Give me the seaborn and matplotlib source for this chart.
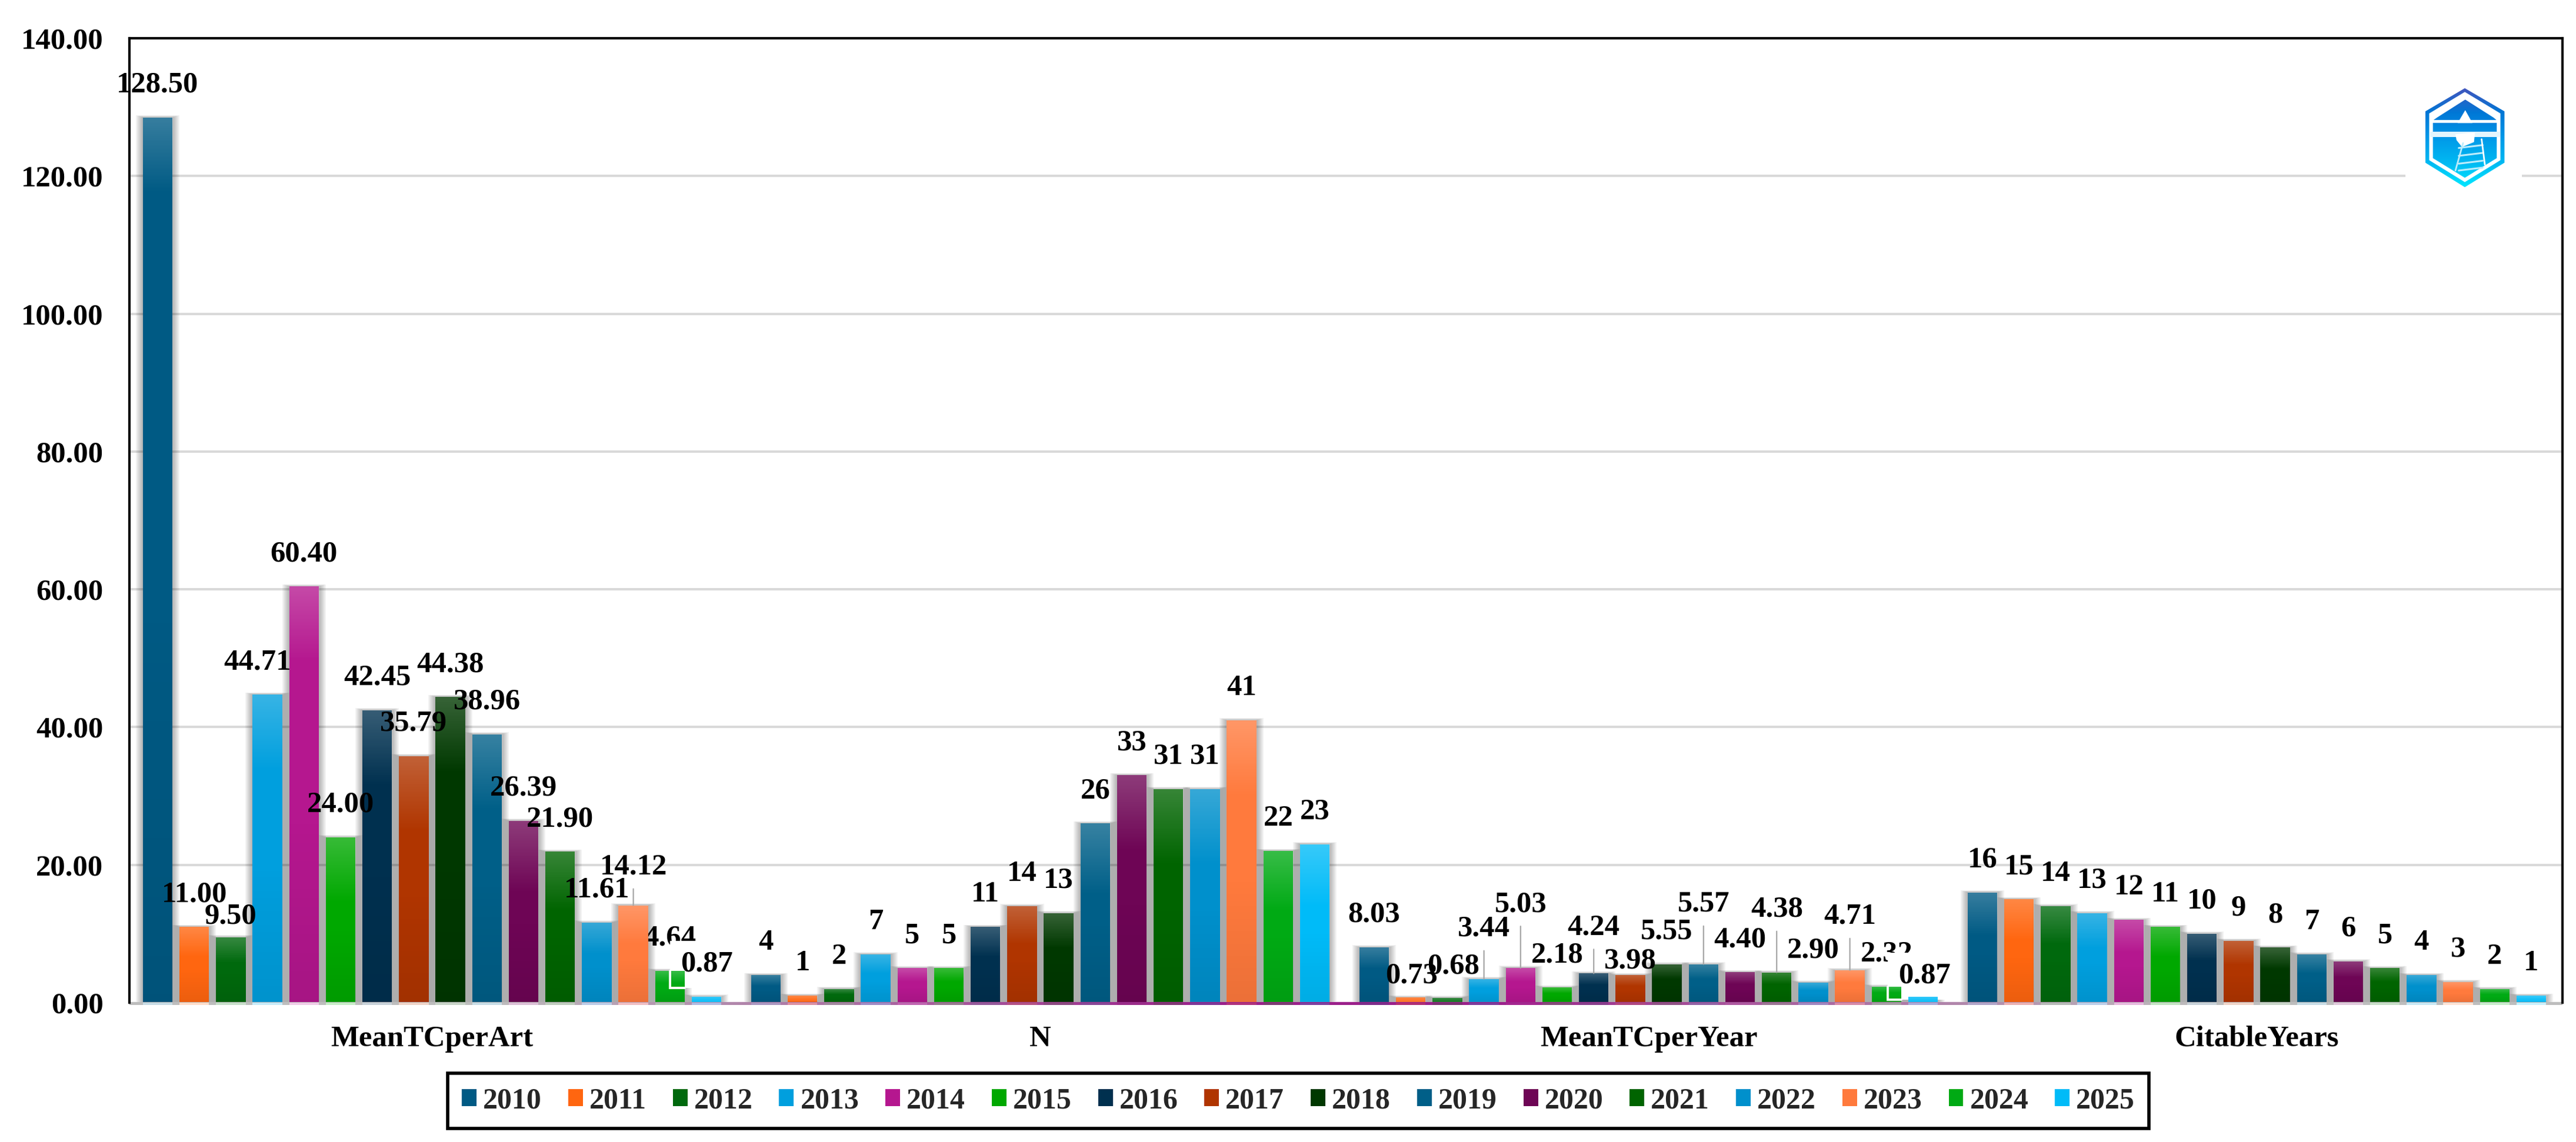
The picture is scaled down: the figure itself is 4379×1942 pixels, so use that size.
import numpy as np
import pandas as pd
import matplotlib
matplotlib.use("Agg")
import matplotlib.pyplot as plt
import matplotlib.colors as mc
from matplotlib.patches import Rectangle, Polygon
import seaborn as sns

# ---- data ----
metrics = ["MeanTCperArt", "N", "MeanTCperYear", "CitableYears"]
years = [str(y) for y in range(2010, 2026)]
mean_tc_per_art = [128.50, 11.00, 9.50, 44.71, 60.40, 24.00, 42.45, 35.79, 44.38, 38.96, 26.39, 21.90, 11.61, 14.12, 4.64, 0.87]
n_docs = [4, 1, 2, 7, 5, 5, 11, 14, 13, 26, 33, 31, 31, 41, 22, 23]
mean_tc_per_year = [8.03, 0.73, 0.68, 3.44, 5.03, 2.18, 4.24, 3.98, 5.55, 5.57, 4.40, 4.38, 2.90, 4.71, 2.32, 0.87]
citable_years = [16, 15, 14, 13, 12, 11, 10, 9, 8, 7, 6, 5, 4, 3, 2, 1]
colors = ["#005A84", "#FF6610", "#00690D", "#009FDE", "#B5178F", "#00A800", "#00304F", "#B03500",
          "#003800", "#005F88", "#6E0555", "#006400", "#0090CC", "#FF7A3D", "#00AA14", "#00BBF8"]
y_ticks = [0, 20, 40, 60, 80, 100, 120, 140]

# ---- label placement: px offset from the top-centre of a bar ----
DEFAULT_LABEL_UP = 55
label_moves = {
    (0, 2): (0, 35), (0, 3): (-17, 55), (0, 13): (0, 65),
    (2, 1): (1, 37), (2, 2): (10, 54), (2, 3): (0, 85), (2, 4): (0, 108),
    (2, 6): (0, 78), (2, 7): (0, 24), (2, 9): (0, 102), (2, 11): (0, 107),
    (2, 13): (0, 91), (2, 15): (2, 35),
}
leaders = [(0, 13), (2, 3), (2, 4), (2, 6), (2, 9), (2, 11), (2, 13)]
boxed_labels = [(0, 15), (2, 15)]       # white-backed labels that hide their neighbours
hidden_neighbours = [(0, 14), (2, 14)]

W, H = 4379, 1942
AX_L, AX_R, AX_T, AX_B = 220, 4356, 65, 1705
FS = 36.5

sns.set_theme(style="white")
plt.rcParams["font.family"] = ["Liberation Serif", "DejaVu Serif"]
plt.rcParams["font.weight"] = "bold"

df = pd.DataFrame({
    "metric": np.repeat(metrics, len(years)),
    "year": years * len(metrics),
    "value": mean_tc_per_art + n_docs + mean_tc_per_year + citable_years,
})

fig = plt.figure(figsize=(W / 100, H / 100), dpi=100, facecolor="white")
ax = fig.add_axes([AX_L / W, 1 - AX_B / H, (AX_R - AX_L) / W, (AX_B - AX_T) / H])
sns.barplot(data=df, x="metric", y="value", hue="year", order=metrics, hue_order=years,
            palette=colors, saturation=1, errorbar=None, width=0.9625, gap=0.188,
            linewidth=0, ax=ax)

YMAX = 140
XMIN, XMAX = -0.4976, 3.5024
px_x = (XMAX - XMIN) / (AX_R - AX_L)
px_y = YMAX / (AX_B - AX_T)


def bar_overlay(height_px):
    """White sheen on the top of a bar, a slight darkening towards the foot."""
    n = max(int(height_px), 2)
    pos = np.linspace(0, height_px, n)
    sheen = float(np.clip(0.4 * height_px, 10, 130))
    white = np.clip(0.22 * (1 - pos / sheen), 0, None)
    black = np.clip(0.08 * (pos / height_px - 0.55) / 0.45, 0, None)
    out = np.zeros((n, 1, 4))
    out[..., :3] = np.where(white[:, None, None] > 0, 1.0, 0.0)
    out[..., 3] = (white + black)[:, None]
    return out


PURPLE = np.array(mc.to_rgb("#9B1F8A"))
def purple_t(xd):
    xp = AX_L + (xd - XMIN) / px_x
    return float(np.clip(1.2 - 1.7 * abs(xp - 2288) / 2068, 0, 1))

strip_h = 4.5 * px_y
for ci, cont in enumerate(ax.containers):
    base = np.array(mc.to_rgb(colors[ci]))
    for mi, bar in enumerate(cont.patches):
        x0, w, h = bar.get_x(), bar.get_width(), bar.get_height()
        bar.set_zorder(3)
        for k in (2, 4, 6, 8, 10, 12):
            ax.add_patch(Rectangle((x0 - k * px_x, 0), w + 2 * k * px_x, h + k * 0.3 * px_y,
                                   fc="black", ec="none", alpha=0.05, zorder=2.5))
        ax.imshow(bar_overlay(h / px_y), extent=(x0, x0 + w, 0, h), aspect="auto", zorder=3.1,
                  interpolation="bilinear")
        t = purple_t(x0 + w / 2)
        tint = base * 0.22 + 0.78
        c = tint * (1 - t) + (PURPLE * 0.8 + base * 0.2) * t
        ax.add_patch(Rectangle((x0, -strip_h), w, strip_h, fc=c, ec="none", zorder=4, clip_on=False))

        # data label
        val = h
        txt = f"{val:.2f}" if mi in (0, 2) else f"{val:.0f}"
        dx, dy = label_moves.get((mi, ci), (0, DEFAULT_LABEL_UP))
        zt = 2.7 if (mi, ci) in hidden_neighbours else 6
        ax.annotate(txt, xy=(x0 + w / 2, h), xytext=(dx * 0.72, dy * 0.72), textcoords="offset points",
                    ha="center", va="center", fontsize=FS, fontweight="bold", color="black", zorder=zt,
                    annotation_clip=False)
        if (mi, ci) in leaders:
            ax.annotate("", xy=(x0 + w / 2, h), xytext=(0, (dy - 37) * 0.72), textcoords="offset points",
                        arrowprops=dict(arrowstyle="-", color="#A6A6A6", lw=1.6, shrinkA=0, shrinkB=0), zorder=5)
        if (mi, ci) in boxed_labels:
            cx = x0 + w / 2 + dx * px_x
            cy = h + dy * px_y
            left, right = cx - 62 * px_x, cx + 62 * px_x
            bot, top = cy - 40 * px_y, cy + 40 * px_y
            ax.add_patch(Rectangle((left, bot), right - left, top - bot, fc="white", ec="none", zorder=2.8))
            prev = ax.containers[ci - 1].patches[mi]
            ax.plot([left, left, prev.get_x() + prev.get_width()], [prev.get_height(), bot, bot],
                    color="white", lw=2.8, solid_joinstyle="miter", zorder=3.5)

# baseline strip, fading from grey at both ends to purple in the middle
xs = np.linspace(XMIN, XMAX, 500)
strip = np.zeros((1, xs.size, 3))
GREY = np.array(mc.to_rgb("#BDBDBD"))
for i, xv in enumerate(xs):
    t = purple_t(xv)
    strip[0, i] = GREY * (1 - t) + PURPLE * t
ax.imshow(strip, extent=(XMIN, XMAX, -strip_h, 0), aspect="auto", zorder=3.9, clip_on=False)

ax.set_xlim(XMIN, XMAX)
ax.set_ylim(0, YMAX)
ax.set_yticks(y_ticks)
ax.set_yticklabels([f"{v:.2f}" for v in y_ticks], fontsize=FS, fontweight="bold", color="black")
ax.tick_params(axis="y", length=0, pad=32)
ax.tick_params(axis="x", length=0, pad=28, labelsize=FS, labelcolor="black")
for lab in ax.get_xticklabels():
    lab.set_fontweight("bold")
ax.set_xlabel("")
ax.set_ylabel("")
ax.yaxis.grid(True, color="#D9D9D9", lw=2.9, zorder=1)
ax.set_axisbelow(True)
ax.yaxis.get_gridlines()[0].set_visible(False)
for side in ("left", "top", "right"):
    ax.spines[side].set_color("black")
    ax.spines[side].set_linewidth(3.0)
    ax.spines[side].set_zorder(7)
ax.spines["bottom"].set_visible(False)

handles, labels = ax.get_legend_handles_labels()
leg = ax.legend(handles, labels, ncol=16, loc="center", bbox_to_anchor=(2207 / W, 1 - 1872 / H),
                bbox_transform=fig.transFigure, fontsize=FS * 0.985, frameon=True, fancybox=False,
                edgecolor="black", framealpha=1, handlelength=0.5, handleheight=0.5,
                handletextpad=0.22, columnspacing=0.9, borderpad=0.48, borderaxespad=0)
leg.get_frame().set_linewidth(4.0)
leg.set_zorder(8)

# ---- logo ----
def zx(v):
    return 3800 + v / 2.7
def zy(v):
    return 100 + v / 3.0
def pts(seq):
    return [(zx(a), zy(b)) for a, b in seq]

logo = fig.add_axes([4089 / W, 1 - 333 / H, (4287 - 4089) / W, (333 - 117) / H], facecolor="white", zorder=9)
logo.set_xlim(4089, 4287)
logo.set_ylim(333, 117)
logo.axis("off")
logo.add_patch(Rectangle((4089, 117), 198, 216, fc="white", ec="none", zorder=0))
cmap = mc.LinearSegmentedColormap.from_list("logo", ["#4355BD", "#0077D6", "#0098E8", "#00B8F2", "#00E6FF"])
hex_pts = pts([(1053, 150), (1235, 268), (1235, 530), (1053, 655), (872, 530), (872, 268)])
grad = logo.imshow(np.linspace(0, 1, 128)[:, None], extent=(zx(872), zx(1235), zy(655), zy(150)),
                   cmap=cmap, aspect="auto", zorder=1)
grad.set_clip_path(Polygon(hex_pts, closed=True, transform=logo.transData))
logo.set_xlim(4089, 4287)
logo.set_ylim(333, 117)
ring = pts([(1053, 180), (1208, 284), (1208, 512), (1053, 618), (898, 512), (898, 284)])
logo.add_patch(Polygon(ring, closed=True, fc="none", ec="white", lw=4.5, zorder=2))
logo.add_patch(Polygon(pts([(893, 282), (1053, 178), (1212, 282), (1212, 325), (1185, 300), (1055, 208),
                            (925, 300), (893, 325)]), fc="white", ec="none", zorder=2))
logo.add_patch(Polygon(pts([(893, 312), (1215, 312), (1215, 328), (893, 328)]), fc="white", ec="none", zorder=2))
logo.add_patch(Polygon(pts([(893, 372), (1215, 372), (1215, 398), (893, 398)]), fc="#E4F5FD", ec="none", zorder=2))
logo.add_patch(Polygon(pts([(1055, 262), (1088, 328), (1020, 328)]), fc="white", ec="none", zorder=3))
logo.add_patch(Polygon(pts([(1010, 385), (1100, 375), (1095, 425), (1040, 450), (1015, 415)]), fc="white", ec="none", zorder=3))
for a, b in [(440, 455), (480, 495), (520, 535), (555, 570)]:
    logo.plot([zx(1025), zx(1135)], [zy(b), zy(a)], color="#BDECFB", lw=2.2, zorder=4)
logo.plot([zx(1045), zx(1010)], [zy(430), zy(570)], color="#BDECFB", lw=2, zorder=4)
logo.plot([zx(1130), zx(1145)], [zy(410), zy(540)], color="white", lw=2, zorder=4)

fig.savefig("out.png", dpi=100, facecolor="white")
